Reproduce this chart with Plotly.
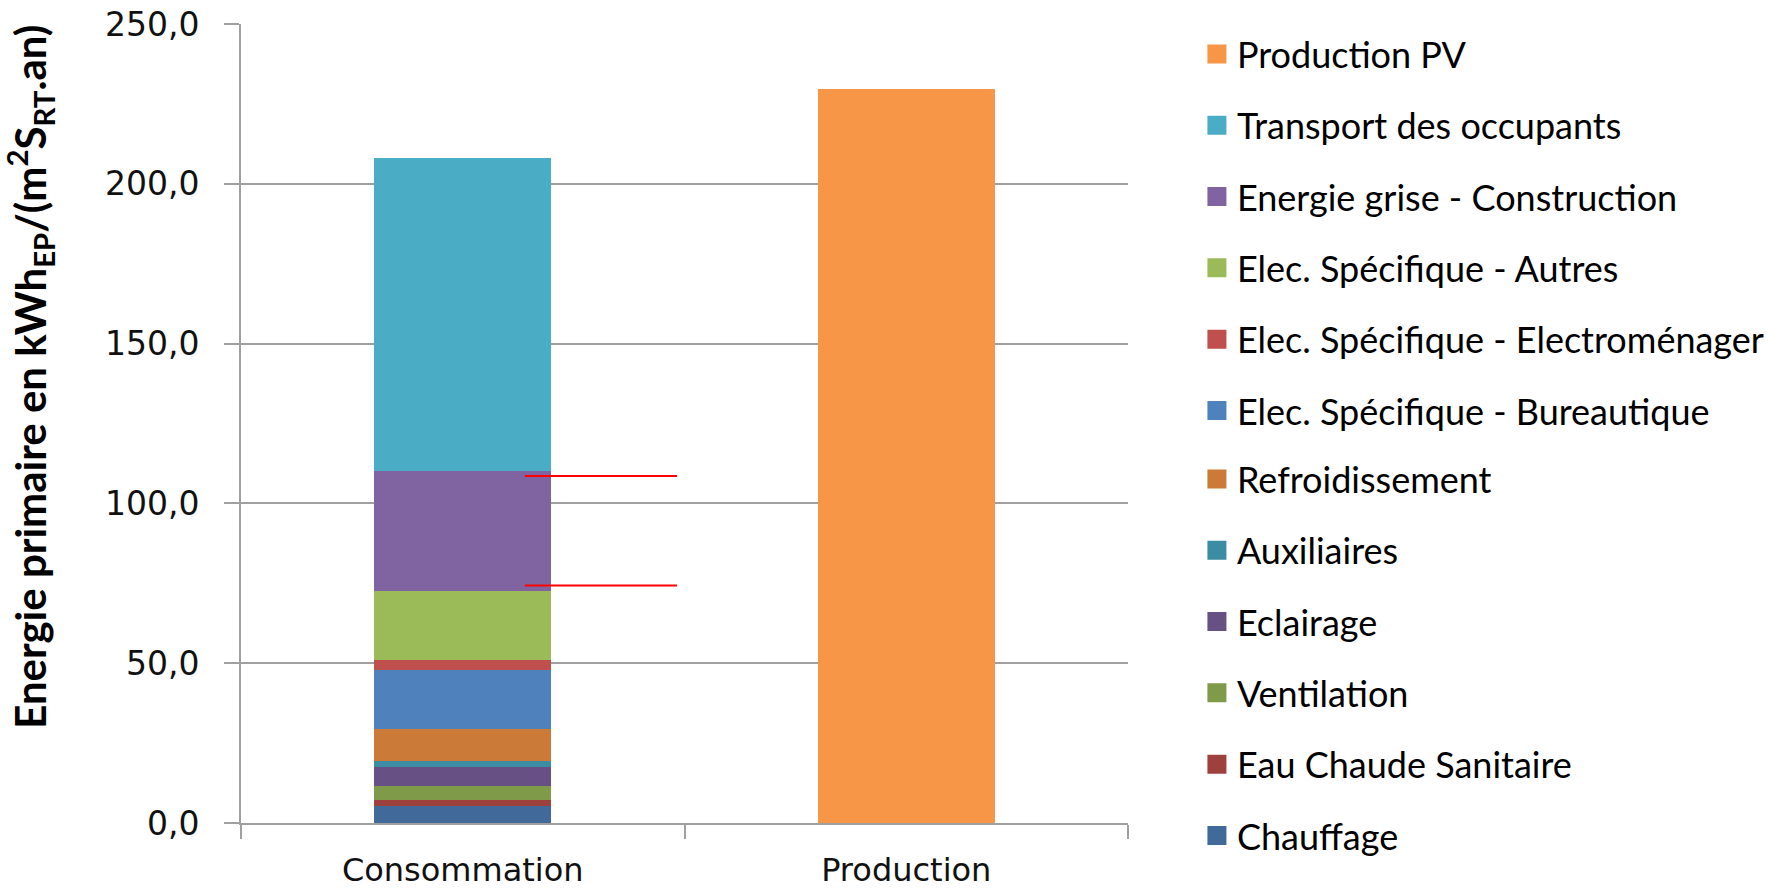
import plotly.graph_objects as go

# ---------------- data ----------------
categories = ["Consommation", "Production"]

conso_labels = [
    "Chauffage",
    "Eau Chaude Sanitaire",
    "Ventilation",
    "Eclairage",
    "Auxiliaires",
    "Refroidissement",
    "Elec. Spécifique - Bureautique",
    "Elec. Spécifique - Electroménager",
    "Elec. Spécifique - Autres",
    "Energie grise - Construction",
    "Transport des occupants",
]
conso_values = [5.4, 1.9, 4.2, 6.0, 1.8, 10.2, 18.5, 3.1, 21.4, 37.6, 98.1]
conso_colors = [
    "#41699A", "#9E413E", "#7F9A48", "#675083", "#3C8DA3", "#CB7B37",
    "#4F81BD", "#C0504D", "#9BBB59", "#8064A2", "#4BACC6",
]

prod_label = "Production PV"
prod_value = 229.8
prod_color = "#F79646"

red_line_levels = [108.6, 74.3]
y_tick_values = [0, 50, 100, 150, 200, 250]

# ---------------- figure ----------------
fig = go.Figure()

for lab, val, col in zip(conso_labels, conso_values, conso_colors):
    fig.add_trace(go.Bar(
        x=[categories[0]], y=[val], name=lab, marker_color=col,
        marker_line_width=0, showlegend=False,
    ))
fig.add_trace(go.Bar(
    x=[categories[1]], y=[prod_value], name=prod_label, marker_color=prod_color,
    marker_line_width=0, showlegend=False,
))

# legend entries (top to bottom), split over two stacked legends
legend_labels = [prod_label] + conso_labels[::-1]
legend_colors = [prod_color] + conso_colors[::-1]
for i, (lab, col) in enumerate(zip(legend_labels, legend_colors)):
    fig.add_trace(go.Scatter(
        x=[None], y=[None], mode="markers", name=lab, legendgroup=lab,
        legend="legend" if i < 6 else "legend2",
        marker=dict(symbol="square", size=16, color=col,
                    line=dict(color=col, width=3)),
        showlegend=True, hoverinfo="skip",
    ))

for lvl in red_line_levels:
    fig.add_shape(type="line", xref="x", yref="y",
                  x0=0.14, x1=0.483, y0=lvl, y1=lvl,
                  line=dict(color="#FF0000", width=2))

fig.add_annotation(
    text="Energie primaire en kWh<sub>EP</sub>/(m<sup>2</sup>S<sub>RT</sub>.an)",
    xref="paper", yref="paper", x=-0.2385, y=0.559,
    xanchor="center", yanchor="middle", textangle=-90, showarrow=False,
    font=dict(family="Lato", size=42, color="#000000", weight="bold"),
)

axis_grey = "#A0A0A0"
legend_common = dict(
    xref="container", yref="container", x=0.6683,
    xanchor="left", yanchor="top",
    traceorder="grouped", tracegroupgap=21.5,
    font=dict(family="Lato", size=36, color="#000000"),
    itemclick=False, itemdoubleclick=False,
    bgcolor="rgba(0,0,0,0)",
)
fig.update_layout(
    width=1791, height=891,
    margin=dict(l=241, r=663, t=24, b=68),
    paper_bgcolor="white", plot_bgcolor="white",
    barmode="stack", bargap=0.6,
    separators=", ",
    showlegend=True,
    legend=dict(legend_common, y=0.973),
    legend2=dict(legend_common, y=0.496),
    xaxis=dict(
        type="category", categoryorder="array", categoryarray=categories,
        range=[-0.5, 1.5], tickson="boundaries", automargin=False,
        ticks="outside", ticklen=14, tickwidth=2, tickcolor=axis_grey,
        showline=True, linecolor=axis_grey, linewidth=2,
        showgrid=False, ticklabelstandoff=18,
        tickfont=dict(family="DejaVu Sans", size=32, color="#111111"),
    ),
    yaxis=dict(
        range=[0, 250], tickvals=y_tick_values, tickformat=".1f",
        automargin=False,
        ticks="outside", ticklen=15, tickwidth=2, tickcolor=axis_grey,
        showline=True, linecolor=axis_grey, linewidth=2,
        showgrid=True, gridcolor=axis_grey, gridwidth=2,
        zeroline=False, ticklabelstandoff=18,
        tickfont=dict(family="DejaVu Sans", size=33, color="#111111"),
    ),
)

fig.write_html("out.html")
